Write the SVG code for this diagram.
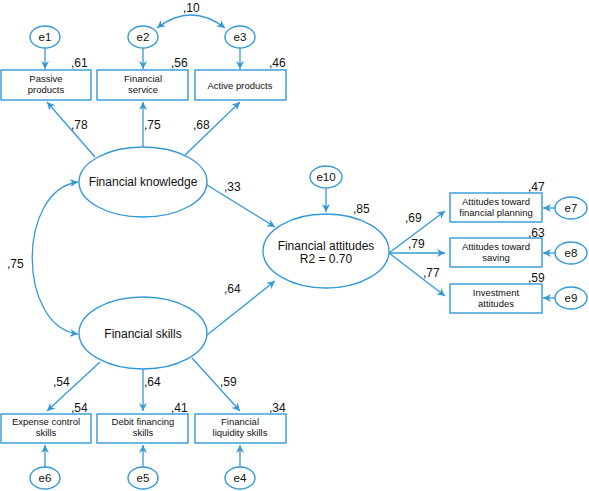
<svg xmlns="http://www.w3.org/2000/svg" width="589" height="491" viewBox="0 0 589 491">
<style>
.n{fill:#fff;stroke:#3399d6;stroke-width:1.4}
.c path,.c line{fill:none;stroke:#3399d6;stroke-width:1.3}
text{font-family:"Liberation Sans",Arial,sans-serif;fill:#111;text-anchor:middle}
.b{font-size:9.5px}
.l{font-size:12px}
.e{font-size:11.5px}
.v{font-size:12px;text-anchor:start}
</style>
<defs>
<marker id="a" viewBox="0 0 10 10" refX="10" refY="5" markerWidth="8" markerHeight="8" markerUnits="userSpaceOnUse" orient="auto-start-reverse">
<path d="M0,0 L10,5 L0,10 L3,5 Z" fill="#3399d6"/>
</marker>
</defs>
<g class="c" id="connectors">
<line x1="45" y1="48" x2="45" y2="69" marker-end="url(#a)"/>
<line x1="143" y1="48" x2="143" y2="69" marker-end="url(#a)"/>
<line x1="240" y1="48" x2="240" y2="69" marker-end="url(#a)"/>
<path d="M157,28 Q191,2 225,28" marker-start="url(#a)" marker-end="url(#a)"/>
<line x1="95" y1="157" x2="47" y2="102" marker-end="url(#a)"/>
<line x1="143" y1="147" x2="143" y2="102" marker-end="url(#a)"/>
<line x1="185" y1="155" x2="240" y2="102" marker-end="url(#a)"/>
<path d="M78,182 C17,190 17,326 78,334" marker-start="url(#a)" marker-end="url(#a)"/>
<line x1="207" y1="185" x2="275" y2="227" marker-end="url(#a)"/>
<line x1="207" y1="335" x2="275" y2="281" marker-end="url(#a)"/>
<line x1="326" y1="189" x2="326" y2="212" marker-end="url(#a)"/>
<line x1="389" y1="253" x2="445" y2="211" marker-end="url(#a)"/>
<line x1="389" y1="253" x2="445" y2="253" marker-end="url(#a)"/>
<line x1="389" y1="253" x2="445" y2="296" marker-end="url(#a)"/>
<line x1="555" y1="208" x2="543" y2="208" marker-end="url(#a)"/>
<line x1="555" y1="253" x2="543" y2="253" marker-end="url(#a)"/>
<line x1="555" y1="298" x2="543" y2="298" marker-end="url(#a)"/>
<line x1="100" y1="362" x2="47" y2="411" marker-end="url(#a)"/>
<line x1="143" y1="369" x2="143" y2="411" marker-end="url(#a)"/>
<line x1="192" y1="358" x2="240" y2="411" marker-end="url(#a)"/>
<line x1="45" y1="467" x2="45" y2="445" marker-end="url(#a)"/>
<line x1="143" y1="467" x2="143" y2="445" marker-end="url(#a)"/>
<line x1="240" y1="467" x2="240" y2="445" marker-end="url(#a)"/>
</g>
<g id="labels">
<text class="v" x="183" y="12">,10</text>
<text class="v" x="71" y="67">,61</text>
<text class="v" x="171" y="67">,56</text>
<text class="v" x="269" y="67">,46</text>
<text class="v" x="71" y="129">,78</text>
<text class="v" x="144" y="129">,75</text>
<text class="v" x="193" y="129">,68</text>
<text class="v" x="224" y="191">,33</text>
<text class="v" x="7" y="268">,75</text>
<text class="v" x="224" y="293">,64</text>
<text class="v" x="353" y="213">,85</text>
<text class="v" x="405" y="222">,69</text>
<text class="v" x="408" y="248">,79</text>
<text class="v" x="423" y="277">,77</text>
<text class="v" x="528" y="191">,47</text>
<text class="v" x="528" y="237">,63</text>
<text class="v" x="528" y="282">,59</text>
<text class="v" x="53" y="386">,54</text>
<text class="v" x="144" y="386">,64</text>
<text class="v" x="220" y="386">,59</text>
<text class="v" x="71" y="412">,54</text>
<text class="v" x="171" y="412">,41</text>
<text class="v" x="269" y="412">,34</text>
</g>
<g id="e1"><ellipse class="n" cx="45" cy="37" rx="15" ry="11"/><text class="e" x="45" y="41">e1</text></g>
<g id="e2"><ellipse class="n" cx="143" cy="37" rx="15" ry="11"/><text class="e" x="143" y="41">e2</text></g>
<g id="e3"><ellipse class="n" cx="240" cy="37" rx="15" ry="11"/><text class="e" x="240" y="41">e3</text></g>
<g id="passive"><rect class="n" x="1" y="70" width="90" height="30"/><text class="b" x="46" y="82">Passive</text><text class="b" x="46" y="93">products</text></g>
<g id="service"><rect class="n" x="97" y="70" width="91" height="30"/><text class="b" x="143" y="82">Financial</text><text class="b" x="143" y="93">service</text></g>
<g id="active"><rect class="n" x="195" y="70" width="91" height="30"/><text class="b" x="240" y="89">Active products</text></g>
<g id="knowledge"><ellipse class="n" cx="143" cy="182" rx="64" ry="35"/><text class="l" x="143" y="186">Financial knowledge</text></g>
<g id="skills"><ellipse class="n" cx="143" cy="333" rx="64" ry="36"/><text class="l" x="143" y="338">Financial skills</text></g>
<g id="e10"><ellipse class="n" cx="326" cy="177" rx="16" ry="11"/><text class="e" x="326" y="181">e10</text></g>
<g id="attitudes"><ellipse class="n" cx="326" cy="251" rx="63" ry="37"/><text class="l" x="326" y="250">Financial attitudes</text><text class="l" x="326" y="263">R2 = 0.70</text></g>
<g id="planning"><rect class="n" x="450" y="193" width="92" height="29"/><text class="b" x="496" y="205">Attitudes toward</text><text class="b" x="496" y="216">financial planning</text></g>
<g id="saving"><rect class="n" x="450" y="238" width="92" height="29"/><text class="b" x="496" y="250">Attitudes toward</text><text class="b" x="496" y="261">saving</text></g>
<g id="investment"><rect class="n" x="450" y="284" width="92" height="29"/><text class="b" x="496" y="296">Investment</text><text class="b" x="496" y="307">attitudes</text></g>
<g id="e7"><ellipse class="n" cx="571" cy="208" rx="16" ry="11"/><text class="e" x="571" y="212">e7</text></g>
<g id="e8"><ellipse class="n" cx="571" cy="253" rx="16" ry="11"/><text class="e" x="571" y="257">e8</text></g>
<g id="e9"><ellipse class="n" cx="571" cy="298" rx="16" ry="11"/><text class="e" x="571" y="302">e9</text></g>
<g id="expense"><rect class="n" x="1" y="414" width="90" height="29"/><text class="b" x="46" y="425">Expense control</text><text class="b" x="46" y="436">skills</text></g>
<g id="debit"><rect class="n" x="97" y="414" width="91" height="29"/><text class="b" x="143" y="425">Debit financing</text><text class="b" x="143" y="436">skills</text></g>
<g id="liquidity"><rect class="n" x="195" y="414" width="91" height="29"/><text class="b" x="240" y="425">Financial</text><text class="b" x="240" y="436">liquidity skills</text></g>
<g id="e6"><ellipse class="n" cx="45" cy="478" rx="15" ry="11"/><text class="e" x="45" y="482">e6</text></g>
<g id="e5"><ellipse class="n" cx="143" cy="478" rx="15" ry="11"/><text class="e" x="143" y="482">e5</text></g>
<g id="e4"><ellipse class="n" cx="240" cy="478" rx="15" ry="11"/><text class="e" x="240" y="482">e4</text></g>
</svg>
